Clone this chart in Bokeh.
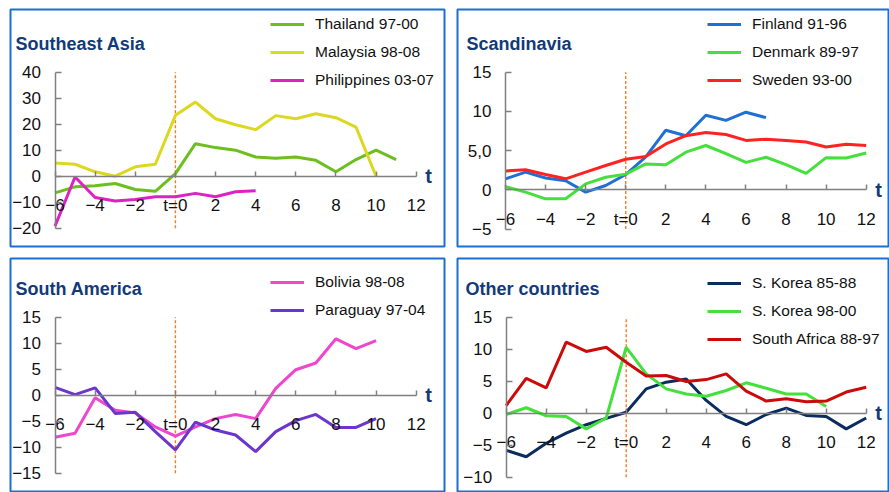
from bokeh.plotting import figure
from bokeh.models import FixedTicker, Label, Legend, LegendItem
from bokeh.layouts import column, row
from bokeh.embed import file_html
from bokeh.resources import INLINE

# ---------------- data ----------------
t_ticks = [-6, -4, -2, 0, 2, 4, 6, 8, 10, 12]
t0 = 0

# Southeast Asia
thailand_t = list(range(-6, 12))
thailand = [-6.4, -4.1, -3.7, -2.8, -5.1, -5.8, 1.0, 12.5, 11.0, 10.0, 7.4, 6.9, 7.4, 6.1, 1.7, 6.4, 10.0, 6.4]
malaysia_t = list(range(-6, 11))
malaysia = [5.1, 4.6, 1.7, 0.0, 3.6, 4.6, 23.4, 28.5, 22.1, 19.8, 17.9, 23.3, 22.1, 24.0, 22.5, 18.9, 0.0]
philippines_t = list(range(-6, 5))
philippines = [-19.2, -0.3, -8.2, -9.5, -9.0, -7.9, -7.9, -6.6, -7.9, -6.0, -5.6]
sea_yticks = [-20, -10, 0, 10, 20, 30, 40]

# Scandinavia
finland_t = list(range(-6, 8))
finland = [1.4, 2.25, 1.5, 1.15, -0.3, 0.55, 1.95, 4.2, 7.6, 6.9, 9.5, 8.85, 9.9, 9.2]
denmark_t = list(range(-6, 13))
denmark = [0.4, -0.3, -1.15, -1.15, 0.75, 1.6, 2.0, 3.3, 3.2, 4.8, 5.65, 4.6, 3.5, 4.15, 3.2, 2.1, 4.1, 4.05, 4.7]
sweden_t = list(range(-6, 13))
sweden = [2.4, 2.55, 1.95, 1.4, 2.25, 3.1, 3.9, 4.25, 5.85, 6.9, 7.3, 7.05, 6.3, 6.45, 6.3, 6.1, 5.45, 5.8, 5.65]
sca_yticks = [-5, 0, 5, 10, 15]

# South America
bolivia_t = list(range(-6, 11))
bolivia = [-8.1, -7.3, -0.5, -2.9, -3.4, -6.1, -7.85, -6.1, -4.5, -3.7, -4.5, 1.3, 4.9, 6.2, 10.85, 8.95, 10.5]
paraguay_t = list(range(-6, 11))
paraguay = [1.5, 0.1, 1.4, -3.5, -3.3, -7.0, -10.5, -5.2, -6.7, -7.65, -10.85, -7.0, -4.9, -3.7, -6.2, -6.2, -4.5]
sam_yticks = [-15, -10, -5, 0, 5, 10, 15]

# Other countries
korea85_t = list(range(-6, 13))
korea85 = [-5.8, -6.8, -4.7, -3.1, -1.8, -0.8, 0.15, 3.8, 4.85, 5.35, 2.0, -0.5, -1.8, -0.2, 0.8, -0.35, -0.5, -2.45, -0.75]
korea98_t = list(range(-6, 11))
korea98 = [-0.2, 0.85, -0.4, -0.5, -2.45, -0.75, 10.3, 6.15, 3.8, 3.0, 2.65, 3.55, 4.75, 3.9, 3.0, 3.0, 1.05]
safrica_t = list(range(-6, 13))
safrica = [1.2, 5.45, 3.95, 11.1, 9.65, 10.3, 7.95, 5.8, 5.9, 4.95, 5.25, 6.15, 3.45, 1.9, 2.25, 1.8, 1.9, 3.3, 4.05]
oth_yticks = [-10, -5, 0, 5, 10, 15]

FONT = "Liberation Sans"
NAVY = "#123a78"
BORDER = "#1b6fd1"
AXIS = "#808080"


def panel(title, series, yticks, yover, geo):
    # geo: canvas (left, top, width, height), min borders (l, r, t, b),
    # pixel anchors for two x values / two y values
    cl, ct, cw, ch = geo["canvas"]
    ml, mr, mt, mb = geo["mb"]
    fl, fr = cl + ml, cl + cw - mr
    ft, fb = ct + mt, ct + ch - mb
    (xa, pxa), (xb, pxb) = geo["xmap"]
    sx = (pxb - pxa) / (xb - xa)
    x0 = xa - (pxa - fl) / sx
    x1 = x0 + (fr - fl) / sx
    (ya, pya), (yb, pyb) = geo["ymap"]
    sy = (pyb - pya) / (ya - yb)
    y1 = ya + (pya - ft) / sy
    y0 = yb - (fb - pyb) / sy

    p = figure(width=cw, height=ch, x_range=(x0, x1), y_range=(y0, y1),
               output_backend="svg", toolbar_location=None,
               min_border_left=ml, min_border_right=mr,
               min_border_top=mt, min_border_bottom=mb)
    p.outline_line_color = BORDER
    p.outline_line_width = 2
    p.xgrid.grid_line_color = None
    p.ygrid.grid_line_color = None
    p.background_fill_color = "white"
    p.border_fill_color = "white"

    ymin, ymax = yticks[0], yticks[-1]

    xa_ = p.xaxis[0]
    xa_.fixed_location = 0
    xa_.bounds = (t_ticks[0], t_ticks[-1])
    xa_.ticker = FixedTicker(ticks=t_ticks)
    xa_.major_label_overrides = {0: "t=0"}
    xa_.axis_line_color = AXIS
    xa_.axis_line_width = 1.5
    xa_.major_tick_line_color = AXIS
    xa_.major_tick_line_width = 1.5
    xa_.major_tick_in = 5
    xa_.major_tick_out = 0
    xa_.minor_tick_line_color = None
    xa_.major_label_standoff = 20
    xa_.major_label_text_font = FONT
    xa_.major_label_text_font_size = "17px"
    xa_.major_label_text_color = "#111111"

    ya_ = p.yaxis[0]
    ya_.fixed_location = t_ticks[0]
    ya_.bounds = (ymin, ymax)
    ya_.ticker = FixedTicker(ticks=yticks)
    ya_.major_label_overrides = yover
    ya_.axis_line_color = AXIS
    ya_.axis_line_width = 1.5
    ya_.major_tick_line_color = AXIS
    ya_.major_tick_line_width = 1.5
    ya_.major_tick_in = 6
    ya_.major_tick_out = 0
    ya_.minor_tick_line_color = None
    ya_.major_label_standoff = 14
    ya_.major_label_text_font = FONT
    ya_.major_label_text_font_size = "17px"
    ya_.major_label_text_color = "#111111"

    # dashed marker at t=0
    p.line(x=[t0, t0], y=[ymin, ymax], line_color="#ff7a1f",
           line_width=1.4, line_dash="3 2")

    items = []
    for name, xs, ys, color in series:
        r = p.line(x=xs, y=ys, line_color=color, line_width=3)
        items.append(LegendItem(label=name, renderers=[r]))

    leg = Legend(items=items, location=geo["legend"], padding=0, margin=0,
                 border_line_color=None, background_fill_alpha=0,
                 glyph_width=34, glyph_height=20, label_height=20,
                 label_standoff=11, spacing=8,
                 label_text_font=FONT, label_text_font_size="15.5px",
                 label_text_color="#111111")
    p.add_layout(leg)

    p.add_layout(Label(x=geo["title"][0], y=geo["title"][1], x_units="screen",
                       y_units="screen", text=title, text_font=FONT,
                       text_font_size="18px", text_font_style="bold",
                       text_color=NAVY, text_baseline="middle"))
    p.add_layout(Label(x=t_ticks[-1], y=0, x_offset=9, text="t",
                       text_font=FONT, text_font_size="20px",
                       text_font_style="bold", text_color=NAVY,
                       text_baseline="alphabetic"))
    return p


p1 = panel("Southeast Asia",
           [("Thailand 97-00", thailand_t, thailand, "#6cbf1e"),
            ("Malaysia 98-08", malaysia_t, malaysia, "#dcd820"),
            ("Philippines 03-07", philippines_t, philippines, "#dd22c4")],
           sea_yticks, {},
           dict(canvas=(0, 0, 452, 252), mb=(10, 8, 9, 6),
                xmap=((-6, 54.5), (12, 415.7)), ymap=((40, 71.7), (-20, 227.7)),
                legend=(260, 156), title=(5, 203)))

p2 = panel("Scandinavia",
           [("Finland 91-96", finland_t, finland, "#1f70d2"),
            ("Denmark 89-97", denmark_t, denmark, "#46e03c"),
            ("Sweden 93-00", sweden_t, sweden, "#ff2222")],
           sca_yticks, {5: "5,0"},
           dict(canvas=(452, 0, 437, 252), mb=(5, 1, 9, 6),
                xmap=((-6, 505), (12, 865.7)), ymap=((15, 71.7), (-5, 228.5)),
                legend=(250, 156), title=(9, 203)))

p3 = panel("South America",
           [("Bolivia 98-08", bolivia_t, bolivia, "#ee46cc"),
            ("Paraguay 97-04", paraguay_t, paraguay, "#6a36cc")],
           sam_yticks, {},
           dict(canvas=(0, 252, 452, 240), mb=(10, 8, 6, 1),
                xmap=((-6, 54.5), (12, 415.7)), ymap=((15, 316.7), (-15, 472.7)),
                legend=(260, 171), title=(5, 203)))

p4 = panel("Other countries",
           [("S. Korea 85-88", korea85_t, korea85, "#0b2c5e"),
            ("S. Korea 98-00", korea98_t, korea98, "#46e03c"),
            ("South Africa 88-97", safrica_t, safrica, "#cc0a0a")],
           oth_yticks, {},
           dict(canvas=(452, 252, 437, 240), mb=(5, 1, 6, 1),
                xmap=((-6, 505.7), (12, 865.7)), ymap=((15, 316.7), (-10, 476.7)),
                legend=(250, 142), title=(8, 203)))

layout = column(row(p1, p2, spacing=0), row(p3, p4, spacing=0), spacing=0)

open("out.html", "w").write(file_html(layout, INLINE))
